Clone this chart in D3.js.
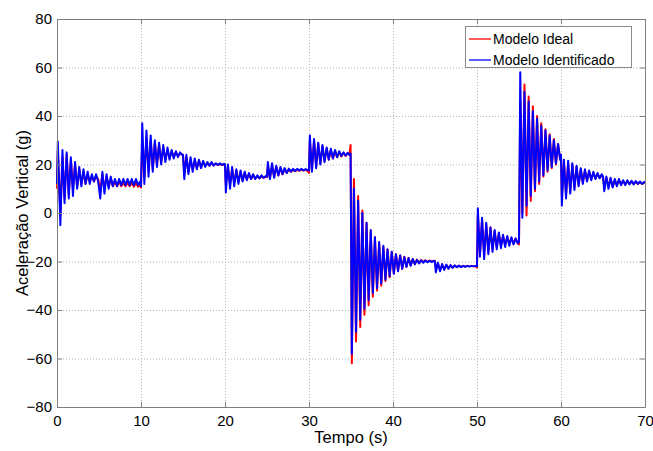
<!DOCTYPE html>
<html>
<head>
<meta charset="utf-8">
<script src="https://cdn.jsdelivr.net/npm/d3@7"></script>
<style>
  html, body { margin: 0; padding: 0; background: #fff; }
  svg { display: block; font-family: "Liberation Sans", Arial, Helvetica, sans-serif; }
</style>
</head>
<body>
<svg id="chart" width="653" height="451"></svg>
<script>
// ---- Data ----
const xTicks = [0, 10, 20, 30, 40, 50, 60, 70];
const yTicks = [-80, -60, -40, -20, 0, 20, 40, 60, 80];
const seriesNames = ["Modelo Ideal", "Modelo Identificado"];

const time = [
  0, 0.1, 0.4, 0.65, 0.9, 1.15, 1.4, 1.65, 1.9, 2.15, 2.4, 2.65, 2.9, 3.15, 3.4, 3.65, 3.9, 4.15, 4.4, 4.65, 4.9,
  5.15, 5.4, 5.65, 5.9, 6.15, 6.4, 6.65, 6.9, 7.15, 7.4, 7.65, 7.9, 8.15, 8.4, 8.65, 8.9, 9.15, 9.4, 9.65, 9.9, 10.0,
  10.15, 10.4, 10.65, 10.9, 11.15, 11.4, 11.65, 11.9, 12.15, 12.4, 12.65, 12.9, 13.15, 13.4, 13.65, 13.9, 14.15, 14.4, 14.65, 14.9, 15.0,
  15.15, 15.4, 15.65, 15.9, 16.15, 16.4, 16.65, 16.9, 17.15, 17.4, 17.65, 17.9, 18.15, 18.4, 18.65, 18.9, 19.15, 19.4, 19.65, 19.9, 20.0,
  20.1, 20.35, 20.6, 20.85, 21.1, 21.35, 21.6, 21.85, 22.1, 22.35, 22.6, 22.85, 23.1, 23.35, 23.6, 23.85, 24.1, 24.35, 24.6, 24.85, 25.0,
  25.1, 25.35, 25.6, 25.85, 26.1, 26.35, 26.6, 26.85, 27.1, 27.35, 27.6, 27.85, 28.1, 28.35, 28.6, 28.85, 29.1, 29.35, 29.6, 29.85, 30.0,
  30.1, 30.35, 30.6, 30.85, 31.1, 31.35, 31.6, 31.85, 32.1, 32.35, 32.6, 32.85, 33.1, 33.35, 33.6, 33.85, 34.1, 34.35, 34.6, 34.8, 34.95,
  35.1, 35.35, 35.6, 35.85, 36.1, 36.35, 36.6, 36.85, 37.1, 37.35, 37.6, 37.85, 38.1, 38.35, 38.6, 38.85, 39.1, 39.35, 39.6, 39.85,
  40.1, 40.35, 40.6, 40.85, 41.1, 41.35, 41.6, 41.85, 42.1, 42.35, 42.6, 42.85, 43.1, 43.35, 43.6, 43.85, 44.1, 44.35, 44.6, 44.85, 45.0,
  45.1, 45.35, 45.6, 45.85, 46.1, 46.35, 46.6, 46.85, 47.1, 47.35, 47.6, 47.85, 48.1, 48.35, 48.6, 48.85, 49.1, 49.35, 49.6, 49.85, 50.0,
  50.1, 50.35, 50.6, 50.85, 51.1, 51.35, 51.6, 51.85, 52.1, 52.35, 52.6, 52.85, 53.1, 53.35, 53.6, 53.85, 54.1, 54.35, 54.6, 54.85, 55.0,
  55.15, 55.4, 55.65, 55.9, 56.15, 56.4, 56.65, 56.9, 57.15, 57.4, 57.65, 57.9, 58.15, 58.4, 58.65, 58.9, 59.15, 59.4, 59.65, 59.9, 60.0,
  60.1, 60.35, 60.6, 60.85, 61.1, 61.35, 61.6, 61.85, 62.1, 62.35, 62.6, 62.85, 63.1, 63.35, 63.6, 63.85, 64.1, 64.35, 64.6, 64.85, 65.0,
  65.15, 65.4, 65.65, 65.9, 66.15, 66.4, 66.65, 66.9, 67.15, 67.4, 67.65, 67.9, 68.15, 68.4, 68.65, 68.9, 69.15, 69.4, 69.65, 69.9, 70.0
];

// Modelo Ideal (red)
const ideal = [
  10, 26, -1, 23, 6, 24, 8, 22, 10, 20, 11, 18, 12, 17, 12, 16, 13, 15, 13, 15, 14,
  9, 16, 10, 15, 11, 14, 11, 13, 11, 13, 11, 12.5, 11, 12.5, 11, 12.5, 10.8, 12.3, 10.8, 11.5, 10.5,
  30, 15, 31, 17, 30, 18, 29, 20, 28, 21, 27, 22, 26, 22.5, 25.5, 23, 25, 23.5, 24.5, 24, 24,
  16, 23, 17, 22, 18, 21.5, 18.5, 21.5, 19, 21, 19.5, 20.5, 19.5, 20.5, 19.8, 20.3, 19.8, 20.2, 19.8, 20, 20,
  12, 19, 12, 18, 12.5, 17.5, 13, 17, 13.5, 16.5, 14, 16, 14, 15.5, 14.2, 15.2, 14.3, 15, 14.5, 15, 14.8,
  19, 14.5, 19.5, 15, 19, 15.5, 18.5, 16, 18, 16.5, 18, 17, 17.8, 17.2, 17.8, 17.4, 17.9, 17.5, 17.8, 17.3, 16.5,
  30, 18, 29.5, 19.5, 28.5, 20.5, 27.5, 21.5, 26.5, 22, 26, 22.5, 25.5, 23, 25, 23.3, 24.8, 23.5, 24.6, 24, 28,
  -62, 14, -53, 7, -47, 1, -42, -4, -38, -7.5, -34.5, -10, -32, -12.5, -30, -14, -28, -15, -26.5, -16,
  -25, -17, -24, -17.5, -23, -18, -22.2, -18.5, -21.6, -19, -21, -19.2, -20.6, -19.4, -20.3, -19.5, -20.1, -19.6, -20, -19.7, -19.8,
  -23, -21, -23.5, -21.5, -23, -21.5, -22.8, -21.6, -22.5, -21.7, -22.3, -21.8, -22.2, -21.8, -22.1, -21.8, -22, -21.8, -22, -21.9, -22.5,
  -0.5, -17, -3, -17, -5, -16, -6, -15, -7.5, -14, -8.5, -13.5, -9.5, -13, -10, -12.5, -10.5, -12.5, -10.5, -12.5, -13,
  46, 0, 53, -1, 48, 5, 44, 9, 40, 12, 37, 15, 34.5, 17, 32.5, 18.5, 30.5, 20, 28.5, 22, 24,
  7, 21, 8, 20.5, 9, 20, 10.5, 19, 11.5, 18, 12.5, 17.5, 13.5, 17, 14, 16.5, 14.3, 16, 14.5, 15.5, 15,
  10.5, 14.5, 11, 14, 11, 13.5, 11.5, 13.5, 11.8, 13.2, 11.8, 13, 12, 13, 12, 12.8, 12, 12.7, 12, 12.5, 12.3
];

// Modelo Identificado (blue)
const identified = [
  12, 29.5, -5, 26, 4, 25, 6, 23, 7, 21, 10, 19, 11, 18, 12, 17, 12, 16, 13, 16, 13,
  6, 17, 8, 16, 10, 15, 11, 14, 11, 14, 11.5, 14, 11.5, 14, 11.5, 14, 11.5, 14, 11.5, 13, 11,
  37, 12, 34, 15, 32, 17, 30, 19, 29, 20, 28, 21, 27, 22, 26, 22.5, 25.5, 23, 25, 24, 24,
  14, 24, 16, 23, 17, 22.5, 18, 22, 18.5, 21.5, 19, 21, 19.5, 21, 19.5, 20.5, 19.8, 20.5, 19.8, 20.3, 20,
  8.5, 20, 10, 19, 11, 18, 12, 17.5, 13, 17, 13.5, 16.5, 14, 16, 14, 15.5, 14.3, 15.5, 14.5, 15.3, 15,
  21, 14, 20.5, 14.5, 19.5, 15.5, 19, 16, 18.5, 16.5, 18.3, 17, 18.2, 17.3, 18.2, 17.5, 18.2, 17.6, 18.1, 17.7, 17.5,
  32, 17, 30.5, 18.5, 29, 20, 28, 21, 27, 22, 26.5, 22.5, 26, 23, 25.5, 23.5, 25, 23.7, 24.8, 24, 24.5,
  -58, 10, -49, 5, -44, 0, -39.5, -4, -36, -7, -33, -10, -31, -12, -29, -13.5, -27.5, -15, -26, -16,
  -25, -17, -24, -17.5, -23, -18.2, -22.3, -18.6, -21.7, -19, -21.2, -19.3, -20.8, -19.5, -20.5, -19.6, -20.3, -19.7, -20.2, -19.8, -20,
  -24.5, -20.5, -24, -21, -23.5, -21.3, -23, -21.5, -22.6, -21.6, -22.4, -21.7, -22.3, -21.8, -22.2, -21.8, -22.1, -21.8, -22, -21.8, -22,
  2, -18, -2, -19, -4, -17, -6, -16, -7, -15, -8, -14.5, -9, -14, -9.5, -13.5, -10, -13, -10.5, -12.5, -12,
  58, -2, 50, 3, 46, 7, 42, 10, 39, 13, 36, 15.5, 34, 17.5, 32, 19, 30, 20.5, 28.5, 22, 24,
  3, 22, 6, 21.5, 8, 20.5, 9.5, 19.5, 11, 18.5, 12, 18, 13, 17.5, 13.5, 17, 14, 16.5, 14.3, 16, 15,
  9, 15, 10, 14.5, 10.5, 14, 11, 14, 11.5, 13.5, 11.5, 13.5, 11.8, 13.3, 11.8, 13.2, 12, 13, 12, 12.8, 12.4
];

const seriesColors = ["#ff0000", "#0000ff"];

// ---- Layout ----
const svg = d3.select("#chart");
const plot = { left: 57, top: 19, right: 645, bottom: 407 };
const W = plot.right - plot.left, H = plot.bottom - plot.top;

svg.append("rect").attr("width", 653).attr("height", 451).attr("fill", "#fff");

const x = d3.scaleLinear().domain([0, 70]).range([plot.left, plot.right]);
const y = d3.scaleLinear().domain([-80, 80]).range([plot.bottom, plot.top]);

const axisGray = "#7f7f7f";

// Grid
const gx = svg.append("g").attr("transform", `translate(0,${plot.bottom})`)
  .call(d3.axisBottom(x).tickValues(xTicks).tickSize(-H).tickFormat(""));
const gy = svg.append("g").attr("transform", `translate(${plot.left},0)`)
  .call(d3.axisLeft(y).tickValues(yTicks).tickSize(-W).tickFormat(""));
[gx, gy].forEach(g => {
  g.select(".domain").remove();
  g.selectAll("line").attr("stroke", "#b4b4b4").attr("stroke-width", 1).attr("stroke-dasharray", "1,2");
});

// Lines
const pts = time.map((t, i) => ({ t, a: ideal[i], b: identified[i] }));
const lineA = d3.line().x(d => x(d.t)).y(d => y(d.a));
const lineB = d3.line().x(d => x(d.t)).y(d => y(d.b));
svg.append("path").datum(pts).attr("d", lineA).attr("fill", "none")
  .attr("stroke", seriesColors[0]).attr("stroke-width", 2).attr("stroke-linejoin", "round");
svg.append("path").datum(pts).attr("d", lineB).attr("fill", "none")
  .attr("stroke", seriesColors[1]).attr("stroke-width", 2).attr("stroke-linejoin", "round");

// Axes with inside ticks
function styleAxis(g) {
  g.select(".domain").attr("stroke", axisGray);
  g.selectAll(".tick line").attr("stroke", axisGray);
  g.selectAll(".tick text").attr("fill", "#000").style("font-size", "15px")
    .style("font-family", '"Liberation Sans", Arial, sans-serif');
}
const axB = svg.append("g").attr("transform", `translate(0,${plot.bottom})`)
  .call(d3.axisBottom(x).tickValues(xTicks).tickSizeInner(-5).tickSizeOuter(0).tickPadding(5));
styleAxis(axB);
axB.selectAll(".tick text").attr("dy", "0.9em");
const axL = svg.append("g").attr("transform", `translate(${plot.left},0)`)
  .call(d3.axisLeft(y).tickValues(yTicks).tickSizeInner(-5).tickSizeOuter(0).tickPadding(5));
styleAxis(axL);
const axT = svg.append("g").attr("transform", `translate(0,${plot.top})`)
  .call(d3.axisTop(x).tickValues(xTicks).tickSizeInner(-5).tickSizeOuter(0).tickFormat(""));
styleAxis(axT);
const axR = svg.append("g").attr("transform", `translate(${plot.right},0)`)
  .call(d3.axisRight(y).tickValues(yTicks).tickSizeInner(-5).tickSizeOuter(0).tickFormat(""));
styleAxis(axR);

// Axis titles
svg.append("text").attr("x", (plot.left + plot.right) / 2).attr("y", 443)
  .attr("text-anchor", "middle").style("font-size", "16.5px").text("Tempo (s)");
svg.append("text").attr("transform", `translate(28,${(plot.top + plot.bottom) / 2}) rotate(-90)`)
  .attr("text-anchor", "middle").style("font-size", "16.5px").text("Aceleração Vertical (g)");

// Legend
const lg = svg.append("g");
lg.append("rect").attr("x", 465.5).attr("y", 26.5).attr("width", 166).attr("height", 41)
  .attr("fill", "#fff").attr("stroke", "#8a8a8a");
seriesNames.forEach((name, i) => {
  const yy = 39 + i * 21;
  lg.append("line").attr("x1", 469).attr("x2", 491).attr("y1", yy).attr("y2", yy)
    .attr("stroke", seriesColors[i]).attr("stroke-width", 1.3);
  lg.append("text").attr("x", 493).attr("y", yy + 5).style("font-size", "14px").text(name);
});
</script>
</body>
</html>
